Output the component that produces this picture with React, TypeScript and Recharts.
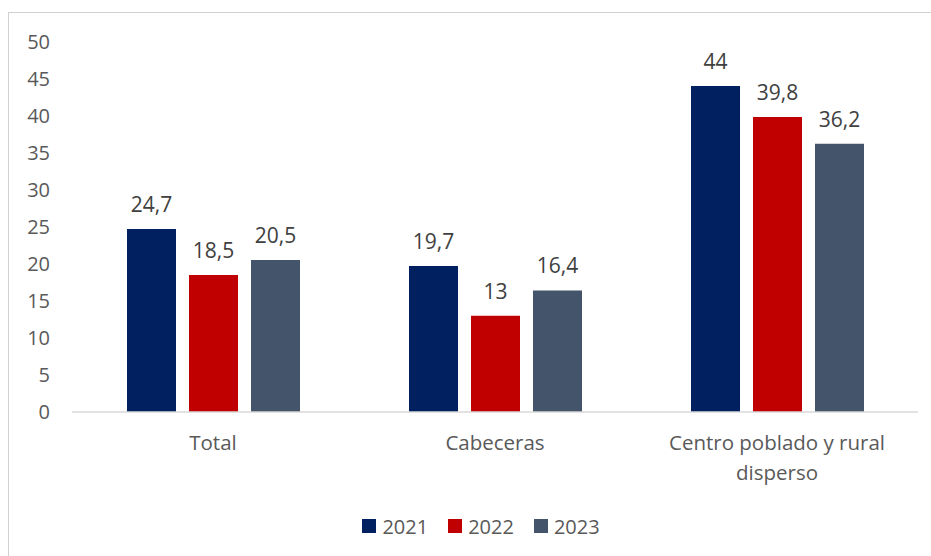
import React from 'react';
import { BarChart, Bar, XAxis, YAxis, Legend, LabelList } from 'recharts';

const categories = ['Total', 'Cabeceras', 'Centro poblado y rural disperso'];
const values2021 = [24.7, 19.7, 44];
const values2022 = [18.5, 13, 39.8];
const values2023 = [20.5, 16.4, 36.2];
const yTicks = [0, 5, 10, 15, 20, 25, 30, 35, 40, 45, 50];

const series = [
  { key: 'y2021', name: '2021', color: '#002060' },
  { key: 'y2022', name: '2022', color: '#C00000' },
  { key: 'y2023', name: '2023', color: '#44546A' },
];

const data = categories.map((name, i) => ({
  name,
  y2021: values2021[i],
  y2022: values2022[i],
  y2023: values2023[i],
}));

const FONT = '"Open Sans", sans-serif';

// parte las etiquetas largas en dos líneas
function wrapLabel(text: string, maxChars: number) {
  const words = text.split(' ');
  const lines: string[] = [];
  let current = '';
  words.forEach((w) => {
    const next = current ? current + ' ' + w : w;
    if (next.length > maxChars && current) {
      lines.push(current);
      current = w;
    } else {
      current = next;
    }
  });
  if (current) lines.push(current);
  return lines;
}

const CategoryTick = ({ x, y, payload }: any) => {
  const lines = wrapLabel(payload.value, 24);
  return (
    <text x={x} y={y} textAnchor="middle" fill="#595959" fontSize={20.5} fontFamily={FONT}>
      {lines.map((line, i) => (
        <tspan key={i} x={x} dy={i === 0 ? 38 : 30}>
          {line}
        </tspan>
      ))}
    </text>
  );
};

const formatValue = (v: any) => String(v).replace('.', ',');

const LegendContent = () => (
  <div
    style={{
      display: 'flex',
      justifyContent: 'center',
      alignItems: 'center',
      height: 30,
      paddingLeft: 32,
      fontFamily: FONT,
      fontSize: 20,
      color: '#595959',
    }}
  >
    {series.map((s, i) => (
      <div key={s.key} style={{ display: 'flex', alignItems: 'center', marginLeft: i === 0 ? 0 : 20 }}>
        <span style={{ width: 14, height: 14, background: s.color, marginRight: 6, display: 'inline-block' }} />
        <span>{s.name}</span>
      </div>
    ))}
  </div>
);

export default function App() {
  return (
    <div style={{ position: 'absolute', left: 0, top: 0, width: 931, height: 556, background: '#fff', overflow: 'hidden' }}>
      <div
        style={{
          position: 'absolute',
          left: 8,
          top: 12,
          width: 960,
          height: 600,
          borderTop: '1px solid #d0d0d0',
          borderLeft: '1px solid #d0d0d0',
        }}
      />
      <div style={{ position: 'absolute', left: 0, top: 0 }}>
        <BarChart
          width={931}
          height={556}
          data={data}
          margin={{ top: 41.5, right: 13, left: 12, bottom: 15 }}
          barGap={13}
          barSize={49}
        >
          <XAxis
            dataKey="name"
            height={99}
            axisLine={{ stroke: '#d9d9d9', strokeWidth: 1.5 }}
            tickLine={false}
            tickSize={0}
            tickMargin={0}
            interval={0}
            tick={<CategoryTick />}
          />
          <YAxis
            width={60}
            domain={[0, 50]}
            ticks={yTicks}
            axisLine={false}
            tickLine={false}
            tickSize={0}
            tickMargin={22}
            tick={{ fill: '#595959', fontSize: 20, fontFamily: FONT }}
          />
          <Legend verticalAlign="bottom" content={<LegendContent />} />
          {series.map((s) => (
            <Bar key={s.key} dataKey={s.key} name={s.name} fill={s.color} isAnimationActive={false}>
              <LabelList
                dataKey={s.key}
                position="top"
                offset={17}
                formatter={formatValue}
                fill="#404040"
                fontSize={21}
                fontFamily={FONT}
              />
            </Bar>
          ))}
        </BarChart>
      </div>
    </div>
  );
}
